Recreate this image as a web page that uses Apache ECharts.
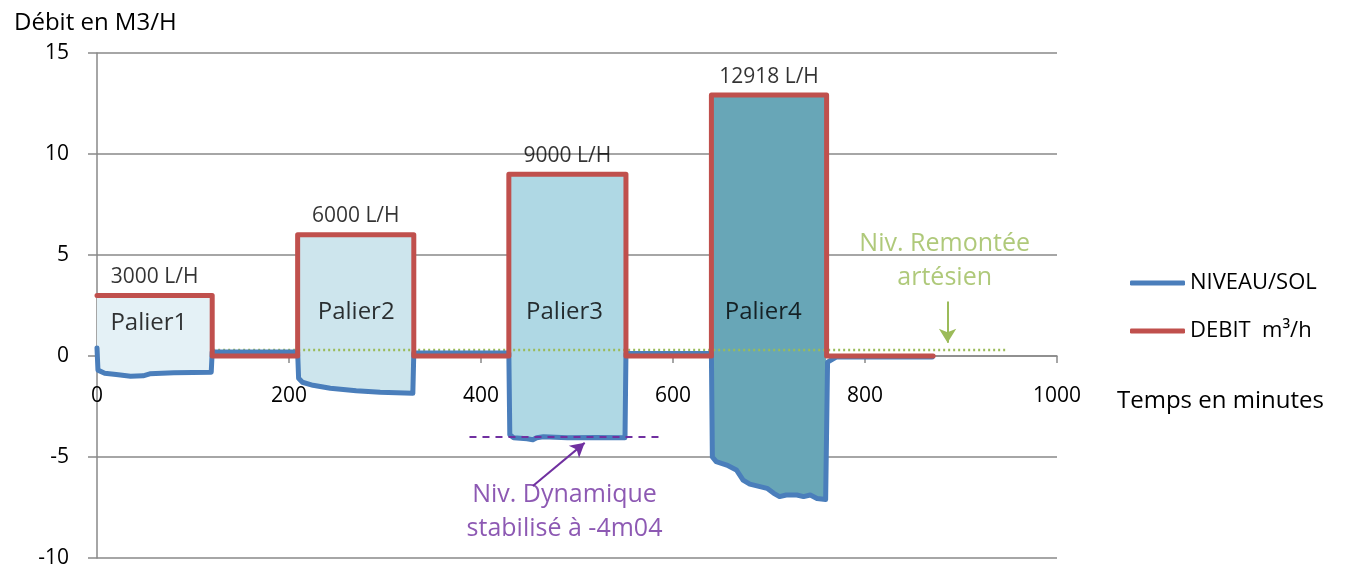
<!DOCTYPE html>
<html>
<head>
<meta charset="utf-8">
<script src="https://cdn.jsdelivr.net/npm/echarts@6/dist/echarts.min.js"></script>
<style>html,body{margin:0;padding:0;background:#fff}#c{width:1351px;height:570px}</style>
</head>
<body>
<div id="c"></div>
<script>
// ---- data ----
const debitTime  = [0,120,120,209,209,330,330,429,429,551,551,640,640,760,760,871];
const debitValue = [3,3,0,0,6,6,0,0,9,9,0,0,12.918,12.918,0,0];

const niveauTime  = [0,1,8,20,35,48,55,80,119,120,209,210,214,225,243,270,295,329,330,429,430,434,448,454,458,465,490,520,550,551,640,641,645,656,666,673,680,698,705,711,718,729,736,743,750,759,761,770,870];
const niveauValue = [0.4,-0.7,-0.85,-0.92,-1.0,-0.98,-0.88,-0.83,-0.8,0.2,0.2,-1.1,-1.3,-1.45,-1.6,-1.72,-1.8,-1.85,0.15,0.15,-3.9,-4.05,-4.1,-4.15,-4.05,-4.0,-4.05,-4.03,-4.05,0.12,0.12,-5.0,-5.23,-5.4,-5.64,-6.14,-6.34,-6.55,-6.8,-6.96,-6.88,-6.88,-6.96,-6.88,-7.05,-7.1,-0.3,-0.05,-0.05];

const palierNames  = ['Palier1','Palier2','Palier3','Palier4'];
const palierStart  = [0,209,429,640];
const palierEnd    = [120,330,551,760];
const palierDebit  = [3,6,9,12.918];
const palierLabels = ['3000 L/H','6000 L/H','9000 L/H','12918 L/H'];
const palierNameX  = [54,270,487,694];
const palierNameY  = [1.63,2.18,2.18,2.18];

const remonteeLevel = 0.3;
const remonteeStart = 121;
const remonteeEnd   = 946;
const dynamiqueLevel = -4.0;
const dynamiqueStart = 388;
const dynamiqueEnd   = 589;

const xTicks = {min:0, max:1000, interval:200};
const yTicks = {min:-10, max:15, interval:5};

// ---- style ----
const FONT = '"Open Sans", sans-serif';
const fillColors = ['#e4f1f6','#cde5ed','#afd8e4','#68a6b7'];
const gridGray = '#898989';
const G = {left:97, right:294, top:53, bottom:12};
const gridH = 570 - G.top - G.bottom;
const xAxisOffset = -gridH * (0 - yTicks.min) / (yTicks.max - yTicks.min);

const debitData  = debitTime.map((t,i)=>[t,debitValue[i]]);
const niveauData = niveauTime.map((t,i)=>[t,niveauValue[i]]);

const chart = echarts.init(document.getElementById('c'), null, {renderer:'canvas'});
chart.setOption({
  animation:false,
  textStyle:{fontFamily:FONT},
  title:[
    {text:'Débit en M3/H', left:9, top:6, textStyle:{fontFamily:FONT,fontSize:24,fontWeight:'normal',color:'#000'}},
    {text:'Temps en minutes', left:1112, top:384, textStyle:{fontFamily:FONT,fontSize:24,fontWeight:'normal',color:'#000'}}
  ],
  grid:{left:G.left, right:G.right, top:G.top, bottom:G.bottom, containLabel:false, outerBoundsMode:'none'},
  legend:{
    orient:'vertical', left:1125, top:267, itemGap:26,
    itemWidth:55, itemHeight:5, icon:'roundRect',
    data:['NIVEAU/SOL','DEBIT  m³/h'],
    textStyle:{fontFamily:FONT,fontSize:22,color:'#000'}
  },
  xAxis:{
    type:'value', min:xTicks.min, max:xTicks.max, interval:xTicks.interval,
    position:'bottom', offset:xAxisOffset,
    axisLine:{onZero:false, lineStyle:{color:gridGray,width:1.5}},
    axisTick:{show:true,length:7,lineStyle:{color:gridGray,width:1.5}},
    axisLabel:{margin:30,fontSize:21,color:'#000',fontFamily:FONT,formatter:v=>String(v)},
    splitLine:{show:false}
  },
  yAxis:{
    type:'value', min:yTicks.min, max:yTicks.max, interval:yTicks.interval,
    axisLine:{show:true, lineStyle:{color:gridGray,width:1.5}},
    axisTick:{show:true,length:9,lineStyle:{color:gridGray,width:1.5}},
    axisLabel:{margin:28,fontSize:21,color:'#000',fontFamily:FONT},
    splitLine:{show:true,lineStyle:{color:gridGray,width:1.5}}
  },
  series:[
    {
      name:'fills', type:'custom', silent:true, z:1,
      data: palierNames.map((n,i)=>[palierStart[i], palierDebit[i]]),
      renderItem:function(params, api){
        const i = params.dataIndex;
        const pts = [api.coord([palierStart[i], palierDebit[i]]), api.coord([palierEnd[i], palierDebit[i]])];
        for (let k = niveauData.length-1; k>=0; k--) {
          const p = niveauData[k];
          if (p[0] >= palierStart[i] && p[0] <= palierEnd[i]) pts.push(api.coord(p));
        }
        return {type:'polygon', shape:{points:pts}, style:{fill:fillColors[i]}};
      }
    },
    {
      name:'remontee', type:'line', silent:true, z:3, symbol:'none',
      data:[[remonteeStart,remonteeLevel],[remonteeEnd,remonteeLevel]],
      lineStyle:{color:'#9bbb59',width:2.5,type:[2,3]}
    },
    {
      name:'NIVEAU/SOL', type:'line', z:4, symbol:'none', data:niveauData,
      lineStyle:{color:'#4a7ebb',width:5,cap:'round',join:'round'},
      itemStyle:{color:'#4a7ebb'}
    },
    {
      name:'DEBIT  m³/h', type:'line', z:5, symbol:'none', data:debitData,
      lineStyle:{color:'#c0504d',width:5,cap:'round',join:'round'},
      itemStyle:{color:'#c0504d'}
    },
    {
      name:'debitLabels', type:'scatter', silent:true, z:6, symbolSize:0,
      data: palierLabels.map((l,i)=>({name:l, value:[(palierStart[i]+palierEnd[i])/2, palierDebit[i]]})),
      label:{show:true, position:'top', distance:8, formatter:'{b}', fontSize:21, color:'#000', fontFamily:FONT}
    },
    {
      name:'palierNames', type:'scatter', silent:true, z:6, symbolSize:0,
      data: palierNames.map((l,i)=>({name:l, value:[palierNameX[i], palierNameY[i]]})),
      label:{show:true, position:'inside', formatter:'{b}', fontSize:24, color:'#000', fontFamily:FONT}
    },
    {
      name:'annotations', type:'scatter', silent:true, z:6, symbolSize:0,
      data:[
        {name:'Niv. Dynamique\nstabilisé à -4m04', value:[487,-7.7], label:{color:'#7030a0'}},
        {name:'Niv. Remontée\nartésien', value:[883,4.7], label:{color:'#9bbb59'}}
      ],
      label:{show:true, position:'inside', formatter:'{b}', fontSize:25, lineHeight:34, align:'center', fontFamily:FONT}
    },
    {
      name:'dynLine', type:'line', silent:true, z:6, data:[],
      markLine:{silent:true, symbol:['none','none'], label:{show:false},
        lineStyle:{color:'#7030a0',width:1.8,type:[7,6]},
        data:[[{coord:[dynamiqueStart,dynamiqueLevel]},{coord:[dynamiqueEnd,dynamiqueLevel]}]]}
    },
    {
      name:'dynArrow', type:'line', silent:true, z:6, data:[],
      markLine:{silent:true, symbol:['none','arrow'], symbolSize:[12,14], label:{show:false},
        lineStyle:{color:'#7030a0',width:2,type:'solid'},
        data:[[{coord:[454,-6.44]},{coord:[508,-4.3]}]]}
    },
    {
      name:'remArrow', type:'line', silent:true, z:6, data:[],
      markLine:{silent:true, symbol:['none','arrow'], symbolSize:[13,14], label:{show:false},
        lineStyle:{color:'#9bbb59',width:2,type:'solid'},
        data:[[{coord:[886,2.7]},{coord:[886,0.65]}]]}
    }
  ]
});
</script>
</body>
</html>
